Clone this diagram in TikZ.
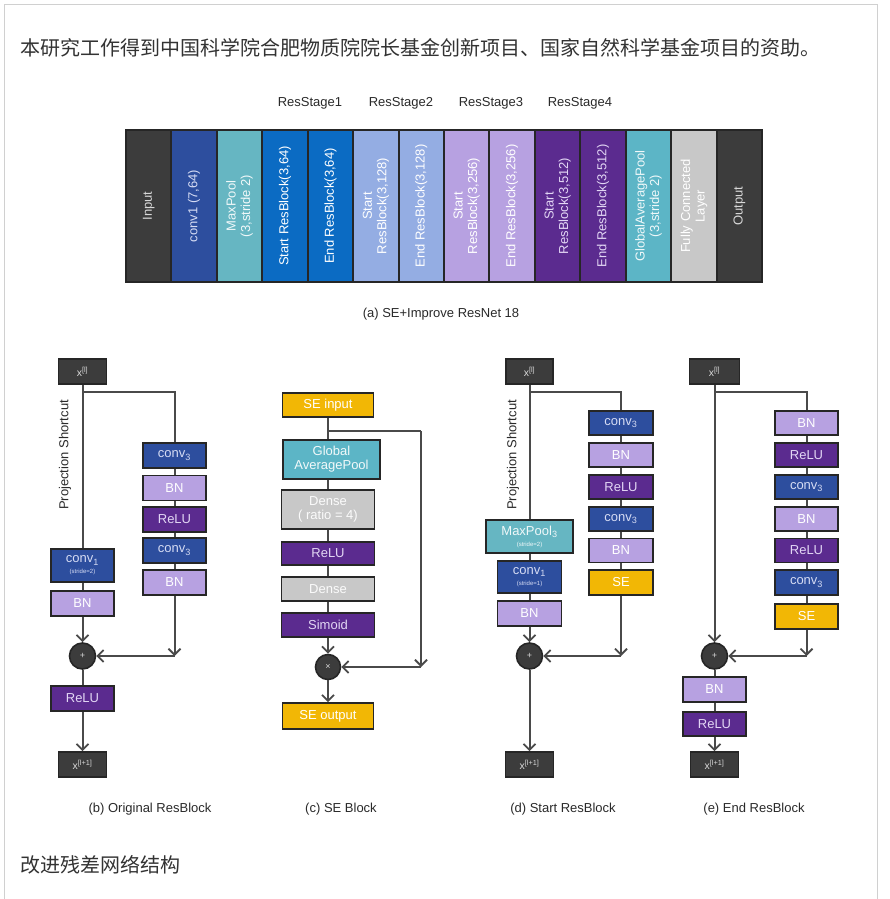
\documentclass[tikz,border=0pt]{standalone}
\usepackage{fontspec}
\setmainfont{Liberation Sans}
\newfontfamily\cjk{Noto Sans CJK SC}
\usetikzlibrary{arrows.meta,calc}
\definecolor{framec}{HTML}{D0D0D0}
\definecolor{txtc}{HTML}{333333}
\definecolor{capc}{HTML}{2A2A2A}
\definecolor{linec}{HTML}{4A4A4A}
\definecolor{bordc}{HTML}{262626}
\definecolor{darkc}{HTML}{3C3C3C}
\definecolor{convc}{HTML}{2D4E9E}
\definecolor{tealc}{HTML}{66B6C2}
\definecolor{gapc}{HTML}{5CB5C6}
\definecolor{bluec}{HTML}{0B6BC3}
\definecolor{periwc}{HTML}{94ADE3}
\definecolor{bnc}{HTML}{B7A1E1}
\definecolor{reluc}{HTML}{5B2B8F}
\definecolor{grayc}{HTML}{C8C8C8}
\definecolor{sec}{HTML}{F2B705}
\definecolor{convt}{HTML}{D6DCF4}
\definecolor{relut}{HTML}{E2D6F4}
\definecolor{xt}{HTML}{D8D8D8}
\begin{document}
\begin{tikzpicture}[x=1pt,y=-1pt,
  conn/.style={draw=linec,line width=2pt},
  arr/.style={conn,-{Straight Barb[length=6pt,width=12pt,line width=1.8pt]}},
  blk/.style={draw=bordc,line width=1.6pt,inner sep=0pt,minimum width=63pt,minimum height=24pt,font=\fontsize{13}{14}\selectfont,align=center},
  convb/.style={blk,fill=convc,text=convt},
  bnb/.style={blk,fill=bnc,text=white},
  relub/.style={blk,fill=reluc,text=relut},
  seb/.style={blk,fill=sec,text=white},
  xb/.style={blk,fill=darkc,text=xt,minimum width=48pt,minimum height=25pt,font=\fontsize{10.5}{11}\selectfont},
  plus/.style={circle,draw=bordc,line width=1.6pt,fill=darkc,minimum size=26pt,inner sep=0pt,text=xt,font=\fontsize{9}{9}\selectfont},
  colb/.style={rotate=90,draw=bordc,line width=2pt,minimum width=152pt,minimum height=45.43pt,inner sep=0pt,align=center,font=\fontsize{13}{14.5}\selectfont},
  capt/.style={font=\fontsize{13}{15}\selectfont,text=capc},
  projt/.style={rotate=90,font=\fontsize{13}{15}\selectfont,text=capc}
]
\useasboundingbox (0,0) rectangle (890,899);
\fill[white] (0,0) rectangle (890,899);
\draw[framec,line width=1pt] (4.5,899) -- (4.5,4.5) -- (877,4.5) -- (877,899);

\node[anchor=west,inner sep=0pt,font=\cjk\fontsize{20}{24}\selectfont,text=txtc] (t1) at (20,48) {本研究工作得到中国科学院合肥物质院院长基金创新项目、国家自然科学基金项目的资助。};
\node[anchor=west,inner sep=0pt,font=\cjk\fontsize{20}{24}\selectfont,text=txtc] (t2) at (20,865) {改进残差网络结构};

% (a) bar
\node[colb,fill=darkc,text=xt] (a1) at (148.7,206) {Input};
\node[colb,fill=convc,text=convt] (a2) at (194.1,206) {conv1 (7,64)};
\node[colb,fill=tealc,text=white!90!tealc] (a3) at (239.6,206) {MaxPool\\(3,stride 2)};
\node[colb,fill=bluec,text=white] (a4) at (285.0,206) {Start ResBlock(3,64)};
\node[colb,fill=bluec,text=white] (a5) at (330.4,206) {End ResBlock(3,64)};
\node[colb,fill=periwc,text=white] (a6) at (375.9,206) {Start\\ResBlock(3,128)};
\node[colb,fill=periwc,text=white] (a7) at (421.3,206) {End ResBlock(3,128)};
\node[colb,fill=bnc,text=white] (a8) at (466.7,206) {Start\\ResBlock(3,256)};
\node[colb,fill=bnc,text=white] (a9) at (512.1,206) {End ResBlock(3,256)};
\node[colb,fill=reluc,text=relut] (a10) at (557.6,206) {Start\\ResBlock(3,512)};
\node[colb,fill=reluc,text=relut] (a11) at (603.0,206) {End ResBlock(3,512)};
\node[colb,fill=gapc,text=white!90!gapc] (a12) at (648.4,206) {GlobalAveragePool\\(3,stride 2)};
\node[colb,fill=grayc,text=white] (a13) at (693.9,206) {Fully Connected\\Layer};
\node[colb,fill=darkc,text=xt] (a14) at (739.3,206) {Output};
\node[capt] (s1) at (310,103) {ResStage1};
\node[capt] (s2) at (401,103) {ResStage2};
\node[capt] (s3) at (491,103) {ResStage3};
\node[capt] (s4) at (580,103) {ResStage4};
\node[capt] (acap) at (441,314) {(a) SE+Improve ResNet 18};

% (b) Original ResBlock
\node[xb] (b0) at (82.5,371.5) {x\textsuperscript{[l]}};
\node[convb,minimum height=33pt] (b1) at (82.5,565.5) {conv\textsubscript{1}\\[-3pt]{\fontsize{6}{7}\selectfont (stride=2)}};
\node[bnb,minimum height=25pt] (b2) at (82.5,603.5) {BN};
\node[plus] (bp) at (82.5,656) {+};
\node[relub,minimum height=25pt] (b3) at (82.5,698.5) {ReLU};
\node[xb] (b4) at (82.5,764.5) {x\textsuperscript{[l+1]}};
\node[convb,minimum height=25pt] (b5) at (174.5,455.5) {conv\textsubscript{3}};
\node[bnb,minimum height=25pt] (b6) at (174.5,488) {BN};
\node[relub,minimum height=25pt] (b7) at (174.5,519.5) {ReLU};
\node[convb,minimum height=25pt] (b8) at (174.5,550.5) {conv\textsubscript{3}};
\node[bnb,minimum height=25pt] (b9) at (174.5,582.5) {BN};
\coordinate (bs) at (82.5,392);
\coordinate (bc) at (174.5,392);
\coordinate (bk) at (174.5,656);
\draw[conn] (b0.south) -- (b1.north);
\draw[conn] (bs) -- (bc) -- (b5.north);
\draw[conn] (b5.south) -- (b6.north);
\draw[conn] (b6.south) -- (b7.north);
\draw[conn] (b7.south) -- (b8.north);
\draw[conn] (b8.south) -- (b9.north);
\draw[conn] (b1.south) -- (b2.north);
\draw[arr] (b2.south) -- (bp.north);
\draw[arr] (b9.south) -- (bk);
\draw[arr] (bk) -- (bp.east);
\draw[conn] (bp.south) -- (b3.north);
\draw[arr] (b3.south) -- (b4.north);
\node[projt] (bl) at (65,455) {Projection Shortcut};
\node[capt] (bcap) at (150,809) {(b) Original ResBlock};

% (c) SE Block
\node[seb,minimum width=91pt,minimum height=24pt] (c0) at (328,405) {SE input};
\node[blk,fill=gapc,text=white!92!gapc,minimum width=97pt,minimum height=39pt] (c1) at (331.5,459.5) {Global\\AveragePool};
\node[blk,fill=grayc,text=white!92!grayc,minimum width=93pt,minimum height=39pt] (c2) at (328,509.5) {Dense\\( ratio = 4)};
\node[relub,minimum width=93pt,minimum height=23pt] (c3) at (328,553.5) {ReLU};
\node[blk,fill=grayc,text=white!92!grayc,minimum width=93pt,minimum height=24pt] (c4) at (328,589) {Dense};
\node[relub,minimum width=93pt,minimum height=24pt] (c5) at (328,625) {Simoid};
\node[plus,minimum size=25pt] (cx) at (328,667) {×};
\node[seb,minimum width=91pt,minimum height=26pt] (c6) at (328,716) {SE output};
\coordinate (cs) at (328,431);
\coordinate (cc) at (421,431);
\coordinate (ck) at (421,667);
\draw[conn] (c0.south) -- (c0.south |- c1.north);
\draw[conn] (c0.south |- c1.south) -- (c2.north);
\draw[conn] (c2.south) -- (c3.north);
\draw[conn] (c3.south) -- (c4.north);
\draw[conn] (c4.south) -- (c5.north);
\draw[arr] (c5.south) -- (cx.north);
\draw[arr] (cx.south) -- (c6.north);
\draw[conn] (cs) -- (cc);
\draw[arr] (cc) -- (ck);
\draw[arr] (ck) -- (cx.east);
\node[capt] (ccap) at (341,809) {(c) SE Block};

% (d) Start ResBlock
\node[xb,minimum width=47pt] (d0) at (529.5,371.5) {x\textsuperscript{[l]}};
\node[blk,fill=tealc,text=white!90!tealc,minimum width=87pt,minimum height=33pt] (d1) at (529.5,536.5) {MaxPool\textsubscript{3}\\[-3pt]{\fontsize{6}{7}\selectfont (stride=2)}};
\node[convb,minimum width=64pt,minimum height=32pt] (d2) at (529.5,577) {conv\textsubscript{1}\\[-3pt]{\fontsize{6}{7}\selectfont (stride=1)}};
\node[bnb,minimum width=64pt,minimum height=25pt] (d3) at (529.5,613.5) {BN};
\node[plus] (dp) at (529.5,656) {+};
\node[xb] (d4) at (529.5,764.5) {x\textsuperscript{[l+1]}};
\node[convb,minimum width=64pt] (d5) at (621,423) {conv\textsubscript{3}};
\node[bnb,minimum width=64pt] (d6) at (621,455) {BN};
\node[relub,minimum width=64pt] (d7) at (621,487) {ReLU};
\node[convb,minimum width=64pt] (d8) at (621,519) {conv\textsubscript{3}};
\node[bnb,minimum width=64pt] (d9) at (621,550.5) {BN};
\node[seb,minimum width=64pt,minimum height=25pt] (d10) at (621,582.5) {SE};
\coordinate (ds) at (529.5,392);
\coordinate (dc) at (621,392);
\coordinate (dk) at (621,656);
\draw[conn] (d0.south) -- (d1.north);
\draw[conn] (ds) -- (dc) -- (d5.north);
\draw[conn] (d5.south) -- (d6.north);
\draw[conn] (d6.south) -- (d7.north);
\draw[conn] (d7.south) -- (d8.north);
\draw[conn] (d8.south) -- (d9.north);
\draw[conn] (d9.south) -- (d10.north);
\draw[conn] (d1.south) -- (d2.north);
\draw[conn] (d2.south) -- (d3.north);
\draw[arr] (d3.south) -- (dp.north);
\draw[arr] (d10.south) -- (dk);
\draw[arr] (dk) -- (dp.east);
\draw[arr] (dp.south) -- (d4.north);
\node[projt] (dl) at (513,455) {Projection Shortcut};
\node[capt] (dcap) at (563,809) {(d) Start ResBlock};

% (e) End ResBlock
\node[xb,minimum width=50pt] (e0) at (714.5,371.5) {x\textsuperscript{[l]}};
\node[bnb] (e5) at (806.5,423) {BN};
\node[relub] (e6) at (806.5,455) {ReLU};
\node[convb] (e7) at (806.5,487) {conv\textsubscript{3}};
\node[bnb] (e8) at (806.5,519) {BN};
\node[relub] (e9) at (806.5,550.5) {ReLU};
\node[convb,minimum height=25pt] (e10) at (806.5,582.5) {conv\textsubscript{3}};
\node[seb,minimum height=25pt] (e11) at (806.5,616.5) {SE};
\node[plus] (ep) at (714.5,656) {+};
\node[bnb,minimum height=25pt] (e1) at (714.5,689.5) {BN};
\node[relub] (e2) at (714.5,724) {ReLU};
\node[xb] (e3) at (714.5,764.5) {x\textsuperscript{[l+1]}};
\coordinate (es) at (714.5,392);
\coordinate (ec) at (806.5,392);
\coordinate (ek) at (806.5,656);
\draw[arr] (e0.south) -- (ep.north);
\draw[conn] (es) -- (ec) -- (e5.north);
\draw[conn] (e5.south) -- (e6.north);
\draw[conn] (e6.south) -- (e7.north);
\draw[conn] (e7.south) -- (e8.north);
\draw[conn] (e8.south) -- (e9.north);
\draw[conn] (e9.south) -- (e10.north);
\draw[conn] (e10.south) -- (e11.north);
\draw[arr] (e11.south) -- (ek);
\draw[arr] (ek) -- (ep.east);
\draw[conn] (ep.south) -- (e1.north);
\draw[conn] (e1.south) -- (e2.north);
\draw[arr] (e2.south) -- (e3.north);
\node[capt] (ecap) at (754,809) {(e) End ResBlock};
\end{tikzpicture}
\end{document}
